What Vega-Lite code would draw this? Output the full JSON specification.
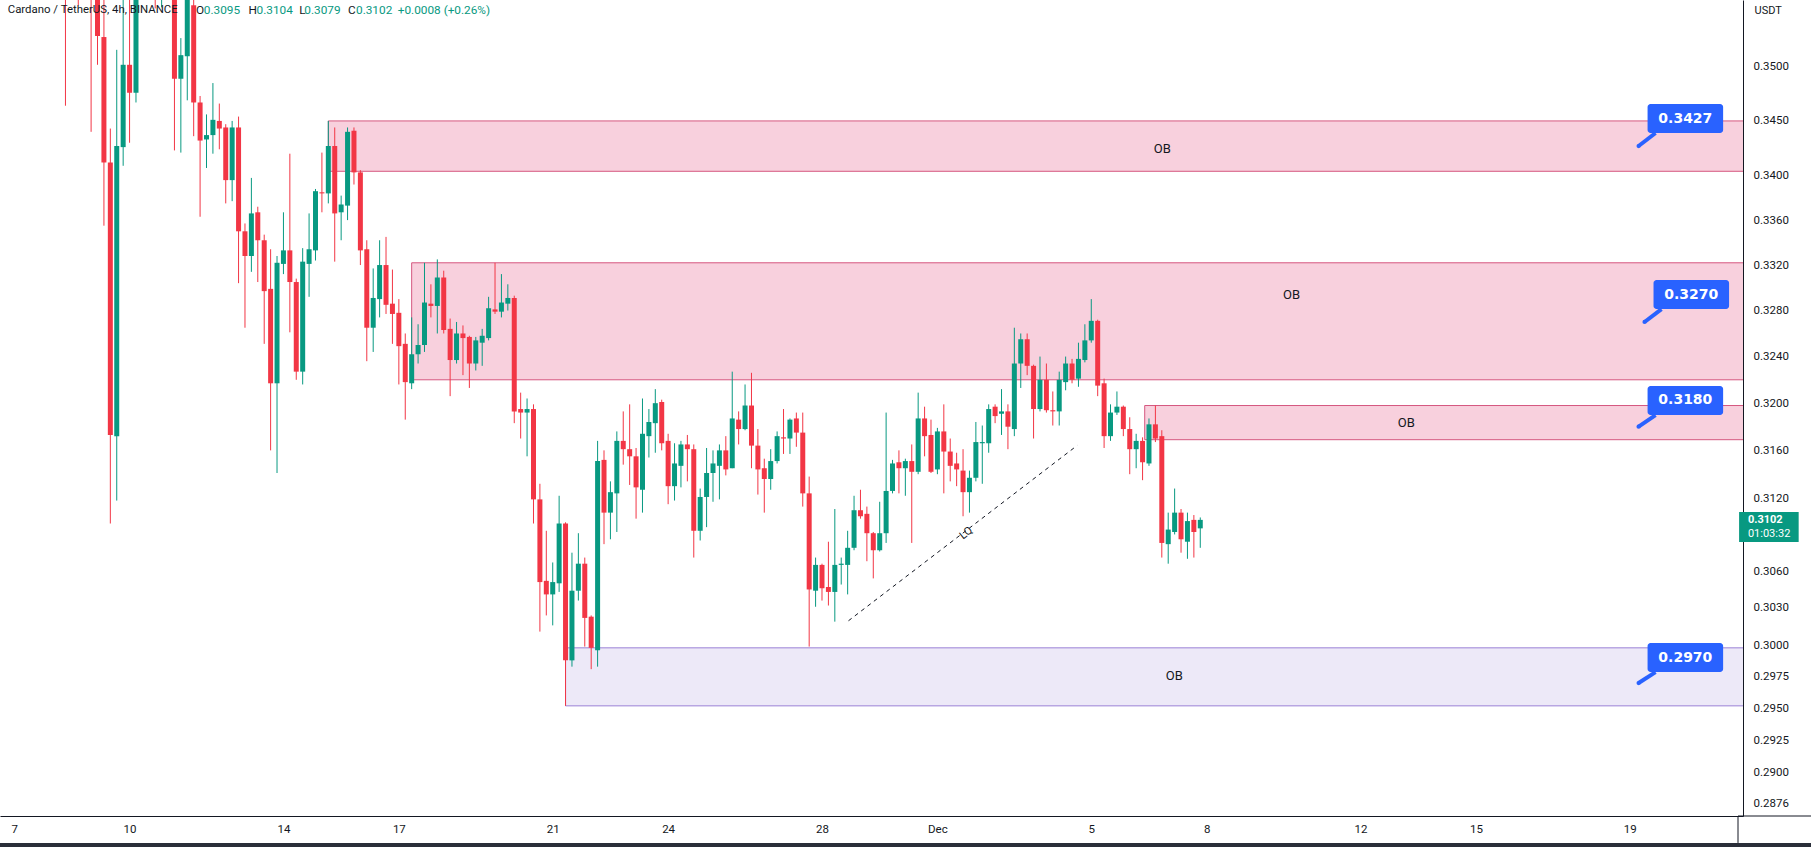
{
"$schema":"https://vega.github.io/schema/vega-lite/v6.json",
"width":1743,"height":816,
"autosize":{"type":"none"},
"padding":{"left":0,"top":0,"right":68,"bottom":31},
"background":"#ffffff",
"config":{"view":{"stroke":null},"font":"Roboto"},
"datasets":{
"candles":[
{"t":"2022-11-08T08:00Z","o":0.3800,"h":0.3850,"l":0.3464,"c":0.3650},
{"t":"2022-11-08T12:00Z","o":0.3650,"h":0.3720,"l":0.3580,"c":0.3690},
{"t":"2022-11-08T16:00Z","o":0.3690,"h":0.3750,"l":0.3558,"c":0.3620},
{"t":"2022-11-08T20:00Z","o":0.3620,"h":0.3700,"l":0.3585,"c":0.3660},
{"t":"2022-11-09T00:00Z","o":0.3660,"h":0.3700,"l":0.3440,"c":0.3600},
{"t":"2022-11-09T04:00Z","o":0.3600,"h":0.3640,"l":0.3502,"c":0.3529},
{"t":"2022-11-09T08:00Z","o":0.3528,"h":0.3575,"l":0.3355,"c":0.3412},
{"t":"2022-11-09T12:00Z","o":0.3412,"h":0.3443,"l":0.3099,"c":0.3173},
{"t":"2022-11-09T16:00Z","o":0.3172,"h":0.3516,"l":0.3118,"c":0.3427},
{"t":"2022-11-09T20:00Z","o":0.3426,"h":0.3580,"l":0.3409,"c":0.3502},
{"t":"2022-11-10T00:00Z","o":0.3502,"h":0.3580,"l":0.3430,"c":0.3476},
{"t":"2022-11-10T04:00Z","o":0.3476,"h":0.3640,"l":0.3467,"c":0.3600},
{"t":"2022-11-10T08:00Z","o":0.3600,"h":0.3720,"l":0.3580,"c":0.3680},
{"t":"2022-11-10T12:00Z","o":0.3680,"h":0.3730,"l":0.3590,"c":0.3640},
{"t":"2022-11-10T16:00Z","o":0.3640,"h":0.3680,"l":0.3555,"c":0.3600},
{"t":"2022-11-10T20:00Z","o":0.3600,"h":0.3680,"l":0.3556,"c":0.3640},
{"t":"2022-11-11T00:00Z","o":0.3640,"h":0.3690,"l":0.3580,"c":0.3620},
{"t":"2022-11-11T04:00Z","o":0.3620,"h":0.3650,"l":0.3423,"c":0.3489},
{"t":"2022-11-11T08:00Z","o":0.3489,"h":0.3527,"l":0.3421,"c":0.3511},
{"t":"2022-11-11T12:00Z","o":0.3510,"h":0.3600,"l":0.3469,"c":0.3570},
{"t":"2022-11-11T16:00Z","o":0.3558,"h":0.3575,"l":0.3436,"c":0.3467},
{"t":"2022-11-11T20:00Z","o":0.3467,"h":0.3473,"l":0.3363,"c":0.3432},
{"t":"2022-11-12T00:00Z","o":0.3433,"h":0.3456,"l":0.3407,"c":0.3437},
{"t":"2022-11-12T04:00Z","o":0.3437,"h":0.3485,"l":0.3420,"c":0.3451},
{"t":"2022-11-12T08:00Z","o":0.3450,"h":0.3466,"l":0.3424,"c":0.3443},
{"t":"2022-11-12T12:00Z","o":0.3444,"h":0.3447,"l":0.3375,"c":0.3396},
{"t":"2022-11-12T16:00Z","o":0.3396,"h":0.3450,"l":0.3377,"c":0.3444},
{"t":"2022-11-12T20:00Z","o":0.3444,"h":0.3454,"l":0.3304,"c":0.3350},
{"t":"2022-11-13T00:00Z","o":0.3350,"h":0.3357,"l":0.3265,"c":0.3328},
{"t":"2022-11-13T04:00Z","o":0.3328,"h":0.3398,"l":0.3314,"c":0.3366},
{"t":"2022-11-13T08:00Z","o":0.3367,"h":0.3372,"l":0.3305,"c":0.3342},
{"t":"2022-11-13T12:00Z","o":0.3342,"h":0.3347,"l":0.3251,"c":0.3297},
{"t":"2022-11-13T16:00Z","o":0.3299,"h":0.3334,"l":0.3160,"c":0.3217},
{"t":"2022-11-13T20:00Z","o":0.3217,"h":0.3328,"l":0.3141,"c":0.3322},
{"t":"2022-11-14T00:00Z","o":0.3321,"h":0.3367,"l":0.3312,"c":0.3333},
{"t":"2022-11-14T04:00Z","o":0.3333,"h":0.3420,"l":0.3261,"c":0.3305},
{"t":"2022-11-14T08:00Z","o":0.3305,"h":0.3308,"l":0.3220,"c":0.3227},
{"t":"2022-11-14T12:00Z","o":0.3227,"h":0.3335,"l":0.3216,"c":0.3323},
{"t":"2022-11-14T16:00Z","o":0.3321,"h":0.3366,"l":0.3292,"c":0.3334},
{"t":"2022-11-14T20:00Z","o":0.3333,"h":0.3388,"l":0.3324,"c":0.3386},
{"t":"2022-11-15T00:00Z","o":0.3385,"h":0.3421,"l":0.3367,"c":0.3384},
{"t":"2022-11-15T04:00Z","o":0.3384,"h":0.3450,"l":0.3375,"c":0.3427},
{"t":"2022-11-15T08:00Z","o":0.3427,"h":0.3444,"l":0.3323,"c":0.3366},
{"t":"2022-11-15T12:00Z","o":0.3367,"h":0.3382,"l":0.3342,"c":0.3374},
{"t":"2022-11-15T16:00Z","o":0.3373,"h":0.3444,"l":0.3360,"c":0.3440},
{"t":"2022-11-15T20:00Z","o":0.3441,"h":0.3444,"l":0.3392,"c":0.3403},
{"t":"2022-11-16T00:00Z","o":0.3403,"h":0.3405,"l":0.3320,"c":0.3333},
{"t":"2022-11-16T04:00Z","o":0.3334,"h":0.3342,"l":0.3236,"c":0.3265},
{"t":"2022-11-16T08:00Z","o":0.3265,"h":0.3317,"l":0.3244,"c":0.3291},
{"t":"2022-11-16T12:00Z","o":0.3290,"h":0.3342,"l":0.3274,"c":0.3320},
{"t":"2022-11-16T16:00Z","o":0.3320,"h":0.3345,"l":0.3277,"c":0.3285},
{"t":"2022-11-16T20:00Z","o":0.3286,"h":0.3316,"l":0.3251,"c":0.3277},
{"t":"2022-11-17T00:00Z","o":0.3278,"h":0.3290,"l":0.3216,"c":0.3249},
{"t":"2022-11-17T04:00Z","o":0.3251,"h":0.3260,"l":0.3186,"c":0.3218},
{"t":"2022-11-17T08:00Z","o":0.3217,"h":0.3274,"l":0.3212,"c":0.3242},
{"t":"2022-11-17T12:00Z","o":0.3242,"h":0.3268,"l":0.3234,"c":0.3250},
{"t":"2022-11-17T16:00Z","o":0.3250,"h":0.3322,"l":0.3244,"c":0.3287},
{"t":"2022-11-17T20:00Z","o":0.3286,"h":0.3303,"l":0.3274,"c":0.3284},
{"t":"2022-11-18T00:00Z","o":0.3284,"h":0.3325,"l":0.3260,"c":0.3309},
{"t":"2022-11-18T04:00Z","o":0.3309,"h":0.3315,"l":0.3260,"c":0.3263},
{"t":"2022-11-18T08:00Z","o":0.3264,"h":0.3273,"l":0.3206,"c":0.3237},
{"t":"2022-11-18T12:00Z","o":0.3237,"h":0.3270,"l":0.3234,"c":0.3260},
{"t":"2022-11-18T16:00Z","o":0.3260,"h":0.3267,"l":0.3224,"c":0.3256},
{"t":"2022-11-18T20:00Z","o":0.3257,"h":0.3258,"l":0.3213,"c":0.3234},
{"t":"2022-11-19T00:00Z","o":0.3234,"h":0.3257,"l":0.3228,"c":0.3254},
{"t":"2022-11-19T04:00Z","o":0.3252,"h":0.3264,"l":0.3232,"c":0.3258},
{"t":"2022-11-19T08:00Z","o":0.3256,"h":0.3292,"l":0.3254,"c":0.3282},
{"t":"2022-11-19T12:00Z","o":0.3281,"h":0.3322,"l":0.3277,"c":0.3279},
{"t":"2022-11-19T16:00Z","o":0.3279,"h":0.3312,"l":0.3274,"c":0.3287},
{"t":"2022-11-19T20:00Z","o":0.3286,"h":0.3303,"l":0.3280,"c":0.3291},
{"t":"2022-11-20T00:00Z","o":0.3291,"h":0.3293,"l":0.3183,"c":0.3193},
{"t":"2022-11-20T04:00Z","o":0.3195,"h":0.3209,"l":0.3170,"c":0.3192},
{"t":"2022-11-20T08:00Z","o":0.3192,"h":0.3204,"l":0.3155,"c":0.3195},
{"t":"2022-11-20T12:00Z","o":0.3195,"h":0.3199,"l":0.3099,"c":0.3119},
{"t":"2022-11-20T16:00Z","o":0.3119,"h":0.3132,"l":0.3011,"c":0.3051},
{"t":"2022-11-20T20:00Z","o":0.3052,"h":0.3093,"l":0.3024,"c":0.3041},
{"t":"2022-11-21T00:00Z","o":0.3041,"h":0.3067,"l":0.3016,"c":0.3051},
{"t":"2022-11-21T04:00Z","o":0.3050,"h":0.3122,"l":0.3043,"c":0.3099},
{"t":"2022-11-21T08:00Z","o":0.3099,"h":0.3100,"l":0.2952,"c":0.2988},
{"t":"2022-11-21T12:00Z","o":0.2988,"h":0.3075,"l":0.2983,"c":0.3044},
{"t":"2022-11-21T16:00Z","o":0.3044,"h":0.3091,"l":0.3036,"c":0.3066},
{"t":"2022-11-21T20:00Z","o":0.3066,"h":0.3071,"l":0.2999,"c":0.3022},
{"t":"2022-11-22T00:00Z","o":0.3023,"h":0.3024,"l":0.2981,"c":0.2998},
{"t":"2022-11-22T04:00Z","o":0.2996,"h":0.3168,"l":0.2983,"c":0.3151},
{"t":"2022-11-22T08:00Z","o":0.3152,"h":0.3160,"l":0.3082,"c":0.3108},
{"t":"2022-11-22T12:00Z","o":0.3108,"h":0.3134,"l":0.3086,"c":0.3125},
{"t":"2022-11-22T16:00Z","o":0.3124,"h":0.3176,"l":0.3092,"c":0.3168},
{"t":"2022-11-22T20:00Z","o":0.3168,"h":0.3193,"l":0.3148,"c":0.3161},
{"t":"2022-11-23T00:00Z","o":0.3161,"h":0.3199,"l":0.3131,"c":0.3155},
{"t":"2022-11-23T04:00Z","o":0.3155,"h":0.3162,"l":0.3103,"c":0.3129},
{"t":"2022-11-23T08:00Z","o":0.3127,"h":0.3204,"l":0.3108,"c":0.3174},
{"t":"2022-11-23T12:00Z","o":0.3172,"h":0.3195,"l":0.3154,"c":0.3184},
{"t":"2022-11-23T16:00Z","o":0.3183,"h":0.3212,"l":0.3158,"c":0.3200},
{"t":"2022-11-23T20:00Z","o":0.3201,"h":0.3203,"l":0.3160,"c":0.3166},
{"t":"2022-11-24T00:00Z","o":0.3168,"h":0.3174,"l":0.3115,"c":0.3130},
{"t":"2022-11-24T04:00Z","o":0.3130,"h":0.3166,"l":0.3118,"c":0.3149},
{"t":"2022-11-24T08:00Z","o":0.3147,"h":0.3168,"l":0.3129,"c":0.3165},
{"t":"2022-11-24T12:00Z","o":0.3165,"h":0.3173,"l":0.3134,"c":0.3161},
{"t":"2022-11-24T16:00Z","o":0.3161,"h":0.3165,"l":0.3071,"c":0.3093},
{"t":"2022-11-24T20:00Z","o":0.3093,"h":0.3128,"l":0.3085,"c":0.3121},
{"t":"2022-11-25T00:00Z","o":0.3121,"h":0.3162,"l":0.3096,"c":0.3141},
{"t":"2022-11-25T04:00Z","o":0.3141,"h":0.3160,"l":0.3117,"c":0.3149},
{"t":"2022-11-25T08:00Z","o":0.3147,"h":0.3165,"l":0.3119,"c":0.3160},
{"t":"2022-11-25T12:00Z","o":0.3160,"h":0.3172,"l":0.3139,"c":0.3144},
{"t":"2022-11-25T16:00Z","o":0.3145,"h":0.3227,"l":0.3145,"c":0.3187},
{"t":"2022-11-25T20:00Z","o":0.3186,"h":0.3193,"l":0.3165,"c":0.3178},
{"t":"2022-11-26T00:00Z","o":0.3178,"h":0.3216,"l":0.3177,"c":0.3198},
{"t":"2022-11-26T04:00Z","o":0.3198,"h":0.3226,"l":0.3145,"c":0.3164},
{"t":"2022-11-26T08:00Z","o":0.3164,"h":0.3178,"l":0.3123,"c":0.3144},
{"t":"2022-11-26T12:00Z","o":0.3145,"h":0.3153,"l":0.3108,"c":0.3136},
{"t":"2022-11-26T16:00Z","o":0.3136,"h":0.3161,"l":0.3127,"c":0.3151},
{"t":"2022-11-26T20:00Z","o":0.3151,"h":0.3176,"l":0.3149,"c":0.3172},
{"t":"2022-11-27T00:00Z","o":0.3171,"h":0.3195,"l":0.3157,"c":0.3170},
{"t":"2022-11-27T04:00Z","o":0.3170,"h":0.3187,"l":0.3157,"c":0.3186},
{"t":"2022-11-27T08:00Z","o":0.3187,"h":0.3192,"l":0.3163,"c":0.3175},
{"t":"2022-11-27T12:00Z","o":0.3175,"h":0.3192,"l":0.3113,"c":0.3124},
{"t":"2022-11-27T16:00Z","o":0.3124,"h":0.3138,"l":0.2999,"c":0.3045},
{"t":"2022-11-27T20:00Z","o":0.3044,"h":0.3071,"l":0.3031,"c":0.3065},
{"t":"2022-11-28T00:00Z","o":0.3065,"h":0.3066,"l":0.3036,"c":0.3046},
{"t":"2022-11-28T04:00Z","o":0.3047,"h":0.3084,"l":0.3032,"c":0.3043},
{"t":"2022-11-28T08:00Z","o":0.3043,"h":0.3111,"l":0.3019,"c":0.3065},
{"t":"2022-11-28T12:00Z","o":0.3065,"h":0.3071,"l":0.3049,"c":0.3066},
{"t":"2022-11-28T16:00Z","o":0.3065,"h":0.3093,"l":0.3041,"c":0.3079},
{"t":"2022-11-28T20:00Z","o":0.3079,"h":0.3122,"l":0.3077,"c":0.3110},
{"t":"2022-11-29T00:00Z","o":0.3110,"h":0.3127,"l":0.3103,"c":0.3105},
{"t":"2022-11-29T04:00Z","o":0.3107,"h":0.3113,"l":0.3068,"c":0.3091},
{"t":"2022-11-29T08:00Z","o":0.3091,"h":0.3092,"l":0.3054,"c":0.3077},
{"t":"2022-11-29T12:00Z","o":0.3077,"h":0.3117,"l":0.3076,"c":0.3091},
{"t":"2022-11-29T16:00Z","o":0.3091,"h":0.3192,"l":0.3083,"c":0.3126},
{"t":"2022-11-29T20:00Z","o":0.3126,"h":0.3152,"l":0.3124,"c":0.3149},
{"t":"2022-11-30T00:00Z","o":0.3150,"h":0.3160,"l":0.3124,"c":0.3145},
{"t":"2022-11-30T04:00Z","o":0.3145,"h":0.3153,"l":0.3122,"c":0.3151},
{"t":"2022-11-30T08:00Z","o":0.3151,"h":0.3165,"l":0.3083,"c":0.3142},
{"t":"2022-11-30T12:00Z","o":0.3142,"h":0.3209,"l":0.3140,"c":0.3187},
{"t":"2022-11-30T16:00Z","o":0.3187,"h":0.3197,"l":0.3155,"c":0.3172},
{"t":"2022-11-30T20:00Z","o":0.3173,"h":0.3186,"l":0.3141,"c":0.3142},
{"t":"2022-12-01T00:00Z","o":0.3144,"h":0.3179,"l":0.3140,"c":0.3176},
{"t":"2022-12-01T04:00Z","o":0.3176,"h":0.3199,"l":0.3124,"c":0.3159},
{"t":"2022-12-01T08:00Z","o":0.3159,"h":0.3170,"l":0.3134,"c":0.3147},
{"t":"2022-12-01T12:00Z","o":0.3149,"h":0.3158,"l":0.3130,"c":0.3144},
{"t":"2022-12-01T16:00Z","o":0.3143,"h":0.3161,"l":0.3105,"c":0.3125},
{"t":"2022-12-01T20:00Z","o":0.3125,"h":0.3143,"l":0.3108,"c":0.3137},
{"t":"2022-12-02T00:00Z","o":0.3137,"h":0.3184,"l":0.3134,"c":0.3167},
{"t":"2022-12-02T04:00Z","o":0.3166,"h":0.3181,"l":0.3132,"c":0.3167},
{"t":"2022-12-02T08:00Z","o":0.3166,"h":0.3199,"l":0.3158,"c":0.3195},
{"t":"2022-12-02T12:00Z","o":0.3197,"h":0.3199,"l":0.3183,"c":0.3189},
{"t":"2022-12-02T16:00Z","o":0.3191,"h":0.3212,"l":0.3173,"c":0.3193},
{"t":"2022-12-02T20:00Z","o":0.3193,"h":0.3199,"l":0.3161,"c":0.3180},
{"t":"2022-12-03T00:00Z","o":0.3178,"h":0.3265,"l":0.3172,"c":0.3234},
{"t":"2022-12-03T04:00Z","o":0.3234,"h":0.3260,"l":0.3213,"c":0.3255},
{"t":"2022-12-03T08:00Z","o":0.3255,"h":0.3260,"l":0.3224,"c":0.3232},
{"t":"2022-12-03T12:00Z","o":0.3232,"h":0.3233,"l":0.3170,"c":0.3195},
{"t":"2022-12-03T16:00Z","o":0.3195,"h":0.3240,"l":0.3193,"c":0.3220},
{"t":"2022-12-03T20:00Z","o":0.3220,"h":0.3234,"l":0.3192,"c":0.3194},
{"t":"2022-12-04T00:00Z","o":0.3194,"h":0.3210,"l":0.3181,"c":0.3193},
{"t":"2022-12-04T04:00Z","o":0.3193,"h":0.3227,"l":0.3181,"c":0.3220},
{"t":"2022-12-04T08:00Z","o":0.3218,"h":0.3240,"l":0.3211,"c":0.3234},
{"t":"2022-12-04T12:00Z","o":0.3234,"h":0.3238,"l":0.3217,"c":0.3220},
{"t":"2022-12-04T16:00Z","o":0.3221,"h":0.3252,"l":0.3214,"c":0.3238},
{"t":"2022-12-04T20:00Z","o":0.3237,"h":0.3268,"l":0.3235,"c":0.3254},
{"t":"2022-12-05T00:00Z","o":0.3254,"h":0.3290,"l":0.3252,"c":0.3271},
{"t":"2022-12-05T04:00Z","o":0.3271,"h":0.3272,"l":0.3206,"c":0.3215},
{"t":"2022-12-05T08:00Z","o":0.3217,"h":0.3221,"l":0.3162,"c":0.3172},
{"t":"2022-12-05T12:00Z","o":0.3172,"h":0.3199,"l":0.3168,"c":0.3192},
{"t":"2022-12-05T16:00Z","o":0.3192,"h":0.3210,"l":0.3190,"c":0.3197},
{"t":"2022-12-05T20:00Z","o":0.3197,"h":0.3198,"l":0.3172,"c":0.3178},
{"t":"2022-12-06T00:00Z","o":0.3178,"h":0.3188,"l":0.3140,"c":0.3161},
{"t":"2022-12-06T04:00Z","o":0.3161,"h":0.3174,"l":0.3145,"c":0.3168},
{"t":"2022-12-06T08:00Z","o":0.3168,"h":0.3171,"l":0.3135,"c":0.3150},
{"t":"2022-12-06T12:00Z","o":0.3149,"h":0.3187,"l":0.3147,"c":0.3182},
{"t":"2022-12-06T16:00Z","o":0.3182,"h":0.3198,"l":0.3167,"c":0.3170},
{"t":"2022-12-06T20:00Z","o":0.3172,"h":0.3177,"l":0.3071,"c":0.3083},
{"t":"2022-12-07T00:00Z","o":0.3082,"h":0.3108,"l":0.3066,"c":0.3094},
{"t":"2022-12-07T04:00Z","o":0.3092,"h":0.3128,"l":0.3090,"c":0.3108},
{"t":"2022-12-07T08:00Z","o":0.3108,"h":0.3111,"l":0.3075,"c":0.3086},
{"t":"2022-12-07T12:00Z","o":0.3084,"h":0.3108,"l":0.3070,"c":0.3101},
{"t":"2022-12-07T16:00Z","o":0.3102,"h":0.3106,"l":0.3071,"c":0.3092},
{"t":"2022-12-07T20:00Z","o":0.3095,"h":0.3104,"l":0.3079,"c":0.3102}
],
"boxes":[
{"side":"supply","t0":"2022-11-15T04:00Z","t1":"2022-12-31T00:00Z","p0":0.3450,"p1":0.3404},
{"side":"supply","t0":"2022-11-17T08:00Z","t1":"2022-12-31T00:00Z","p0":0.3322,"p1":0.3220},
{"side":"supply","t0":"2022-12-06T09:20Z","t1":"2022-12-31T00:00Z","p0":0.3198,"p1":0.3169},
{"side":"demand","t0":"2022-11-21T08:00Z","t1":"2022-12-31T00:00Z","p0":0.2998,"p1":0.2952}
],
"ob":[
{"t":"2022-12-06T20:20Z","p":0.34243},
{"t":"2022-12-10T05:00Z","p":0.32940},
{"t":"2022-12-13T04:30Z","p":0.31831},
{"t":"2022-12-07T03:50Z","p":0.29756}
],
"lq":[{"t":"2022-11-28T16:31Z","p":0.30197,"t2":"2022-12-04T15:11Z","p2":0.31641}],
"lqtext":[{"t":"2022-12-01T18:00Z","p":0.30909,"txt":"LQ"}],
"callouts":[
{"lab":"0.3427","t0":"2022-12-19T11:04Z","t1":"2022-12-21T10:12Z","ptop":0.34656,"pbot":0.34389,"pmid":0.34522,"tm":"2022-12-20T10:38Z","td":"2022-12-19T05:28Z","pd":0.3427,"tp":"2022-12-19T16:02Z"},
{"lab":"0.3270","t0":"2022-12-19T14:47Z","t1":"2022-12-21T13:55Z","ptop":0.33068,"pbot":0.32813,"pmid":0.32940,"tm":"2022-12-20T14:21Z","td":"2022-12-19T09:11Z","pd":0.3270,"tp":"2022-12-19T19:45Z"},
{"lab":"0.3180","t0":"2022-12-19T11:04Z","t1":"2022-12-21T10:12Z","ptop":0.32147,"pbot":0.31899,"pmid":0.32023,"tm":"2022-12-20T10:38Z","td":"2022-12-19T05:28Z","pd":0.3180,"tp":"2022-12-19T16:02Z"},
{"lab":"0.2970","t0":"2022-12-19T11:04Z","t1":"2022-12-21T10:12Z","ptop":0.30018,"pbot":0.29787,"pmid":0.29902,"tm":"2022-12-20T10:38Z","td":"2022-12-19T05:28Z","pd":0.2970,"tp":"2022-12-19T16:02Z"}
],
"badge":[{"t0":"2022-12-21T20:10Z","t1":"2022-12-23T09:20Z","p0":0.31085,"p1":0.30837,"tt":"2022-12-22T01:40Z","pa":0.31019,"pb":0.30903,"a":"0.3102","b":"01:03:32"}],
"frame":[
{"t":"2022-12-21T19:29Z","t2":"2022-12-24T00:00Z","p":0.28666,"p2":0.28666},
{"t":"2022-12-21T19:29Z","t2":"2022-12-21T19:29Z","p":0.28666,"p2":0.28461}
],
"strip":[{"t":"2022-11-01T00:00Z","t2":"2022-12-31T00:00Z","p":0.28461,"p2":0.28400}],
"headname":[{"t":"2022-11-06T20:00Z","txt":"Cardano / TetherUS, 4h, BINANCE"}],
"header":[
{"t":"2022-11-11T17:24Z","txt":"O","role":"key"},
{"t":"2022-11-11T22:21Z","txt":"0.3095","role":"val"},
{"t":"2022-11-13T02:16Z","txt":"H","role":"key"},
{"t":"2022-11-13T07:14Z","txt":"0.3104","role":"val"},
{"t":"2022-11-14T09:54Z","txt":"L","role":"key"},
{"t":"2022-11-14T13:00Z","txt":"0.3079","role":"val"},
{"t":"2022-11-15T16:18Z","txt":"C","role":"key"},
{"t":"2022-11-15T21:16Z","txt":"0.3102","role":"val"},
{"t":"2022-11-16T23:19Z","txt":"+0.0008 (+0.26%)","role":"val"}
]
},
"layer":[
{
"data":{"name":"boxes"},
"mark":{"type":"rect","clip":true,"strokeWidth":1},
"encoding":{
"x":{"field":"t0","type":"temporal","scale":{"type":"utc","domain":[{"year":2022,"month":11,"date":6,"hours":18,"minutes":17,"utc":true},{"year":2022,"month":12,"date":21,"hours":19,"minutes":29,"utc":true}]},
"axis":{"values":[{"year":2022,"month":11,"date":7,"utc":true},{"year":2022,"month":11,"date":10,"utc":true},{"year":2022,"month":11,"date":14,"utc":true},{"year":2022,"month":11,"date":17,"utc":true},{"year":2022,"month":11,"date":21,"utc":true},{"year":2022,"month":11,"date":24,"utc":true},{"year":2022,"month":11,"date":28,"utc":true},{"year":2022,"month":12,"date":1,"utc":true},{"year":2022,"month":12,"date":5,"utc":true},{"year":2022,"month":12,"date":8,"utc":true},{"year":2022,"month":12,"date":12,"utc":true},{"year":2022,"month":12,"date":15,"utc":true},{"year":2022,"month":12,"date":19,"utc":true}],
"labelExpr":"utcdate(datum.value) == 1 ? utcFormat(datum.value, '%b') : utcFormat(datum.value, '%-d')",
"grid":false,"ticks":false,"tickSize":0,"domainColor":"#131722","domainWidth":1,"labelFontSize":11.5,"labelColor":"#131722","labelPadding":7,"title":null,"labelOverlap":false,"labelFlush":false}},
"x2":{"field":"t1"},
"y":{"field":"p0","type":"quantitative","scale":{"type":"log","domain":[0.28666,0.3563],"nice":false},
"axis":{"orient":"right","values":[0.35,0.345,0.34,0.336,0.332,0.328,0.324,0.32,0.316,0.312,0.306,0.303,0.3,0.2975,0.295,0.2925,0.29,0.2876],"format":".4f","grid":false,"ticks":false,"tickSize":0,"domainColor":"#131722","domainWidth":1,"labelFontSize":11.5,"labelColor":"#131722","labelPadding":10,"labelAlign":"left","labelOverlap":false,"labelFlush":false,
"title":"USDT","titleAngle":0,"titleAnchor":"end","titleAlign":"left","titleBaseline":"top","titleX":11,"titleY":4,"titleFontSize":11,"titleFontWeight":"normal","titleColor":"#131722"}},
"y2":{"field":"p1"},
"fill":{"field":"side","type":"nominal","scale":{"domain":["supply","demand"],"range":["#f8d0dd","#ede9f8"]},"legend":null},
"stroke":{"field":"side","type":"nominal","scale":{"domain":["supply","demand"],"range":["#d5577f","#9a80d6"]},"legend":null}
}
},
{
"data":{"name":"candles"},
"mark":{"type":"rule","clip":true,"strokeWidth":1},
"encoding":{
"x":{"field":"t","type":"temporal"},
"y":{"field":"l","type":"quantitative"},
"y2":{"field":"h"},
"color":{"condition":{"test":"datum.c >= datum.o","value":"#089981"},"value":"#F23645"}
}
},
{
"data":{"name":"candles"},
"mark":{"type":"bar","clip":true,"size":5},
"encoding":{
"x":{"field":"t","type":"temporal"},
"y":{"field":"o","type":"quantitative"},
"y2":{"field":"c"},
"color":{"condition":{"test":"datum.c >= datum.o","value":"#089981"},"value":"#F23645"}
}
},
{
"data":{"name":"ob"},
"mark":{"type":"text","text":"OB","fontSize":13,"color":"#131722","align":"center","baseline":"middle","clip":true},
"encoding":{
"x":{"field":"t","type":"temporal"},
"y":{"field":"p","type":"quantitative"}
}
},
{
"data":{"name":"lq"},
"mark":{"type":"rule","strokeDash":[4,4],"strokeWidth":1,"color":"#131722"},
"encoding":{
"x":{"field":"t","type":"temporal"},
"x2":{"field":"t2"},
"y":{"field":"p","type":"quantitative"},
"y2":{"field":"p2"}
}
},
{
"data":{"name":"lqtext"},
"mark":{"type":"text","fontSize":11,"color":"#131722","angle":322,"align":"center","baseline":"middle"},
"encoding":{
"x":{"field":"t","type":"temporal"},
"y":{"field":"p","type":"quantitative"},
"text":{"field":"txt"}
}
},
{
"data":{"name":"callouts"},
"mark":{"type":"rule","strokeWidth":4,"color":"#2962FF"},
"encoding":{
"x":{"field":"td","type":"temporal"},
"x2":{"field":"tp"},
"y":{"field":"pd","type":"quantitative"},
"y2":{"field":"pbot"}
}
},
{
"data":{"name":"callouts"},
"mark":{"type":"point","filled":true,"size":18,"color":"#2962FF","opacity":1},
"encoding":{
"x":{"field":"td","type":"temporal"},
"y":{"field":"pd","type":"quantitative"}
}
},
{
"data":{"name":"callouts"},
"mark":{"type":"rect","color":"#2962FF","cornerRadius":3},
"encoding":{
"x":{"field":"t0","type":"temporal"},
"x2":{"field":"t1"},
"y":{"field":"ptop","type":"quantitative"},
"y2":{"field":"pbot"}
}
},
{
"data":{"name":"callouts"},
"mark":{"type":"text","font":"DejaVu Sans","fontWeight":"bold","fontSize":14,"color":"#ffffff","align":"center","baseline":"middle"},
"encoding":{
"x":{"field":"tm","type":"temporal"},
"y":{"field":"pmid","type":"quantitative"},
"text":{"field":"lab"}
}
},
{
"data":{"name":"badge"},
"mark":{"type":"rect","color":"#089981"},
"encoding":{
"x":{"field":"t0","type":"temporal"},
"x2":{"field":"t1"},
"y":{"field":"p0","type":"quantitative"},
"y2":{"field":"p1"}
}
},
{
"data":{"name":"badge"},
"mark":{"type":"text","fontSize":11,"fontWeight":"bold","color":"#ffffff","align":"left","baseline":"middle"},
"encoding":{
"x":{"field":"tt","type":"temporal"},
"y":{"field":"pa","type":"quantitative"},
"text":{"field":"a"}
}
},
{
"data":{"name":"badge"},
"mark":{"type":"text","fontSize":11,"color":"#ffffff","align":"left","baseline":"middle"},
"encoding":{
"x":{"field":"tt","type":"temporal"},
"y":{"field":"pb","type":"quantitative"},
"text":{"field":"b"}
}
},
{
"data":{"name":"frame"},
"mark":{"type":"rule","strokeWidth":1,"color":"#131722"},
"encoding":{
"x":{"field":"t","type":"temporal"},
"x2":{"field":"t2"},
"y":{"field":"p","type":"quantitative"},
"y2":{"field":"p2"}
}
},
{
"data":{"name":"strip"},
"mark":{"type":"rect","color":"#2a2e39"},
"encoding":{
"x":{"field":"t","type":"temporal"},
"x2":{"field":"t2"},
"y":{"field":"p","type":"quantitative"},
"y2":{"field":"p2"}
}
},
{
"data":{"name":"headname"},
"mark":{"type":"text","fontSize":11.4,"align":"left","baseline":"middle","color":"#131722"},
"encoding":{
"x":{"field":"t","type":"temporal"},
"y":{"datum":0.35535,"type":"quantitative"},
"text":{"field":"txt"}
}
},
{
"data":{"name":"header"},
"mark":{"type":"text","fontSize":11.8,"align":"left","baseline":"middle"},
"encoding":{
"x":{"field":"t","type":"temporal"},
"y":{"datum":0.35535,"type":"quantitative"},
"text":{"field":"txt"},
"color":{"field":"role","type":"nominal","scale":{"domain":["key","val"],"range":["#131722","#089981"]},"legend":null}
}
}
]
}
